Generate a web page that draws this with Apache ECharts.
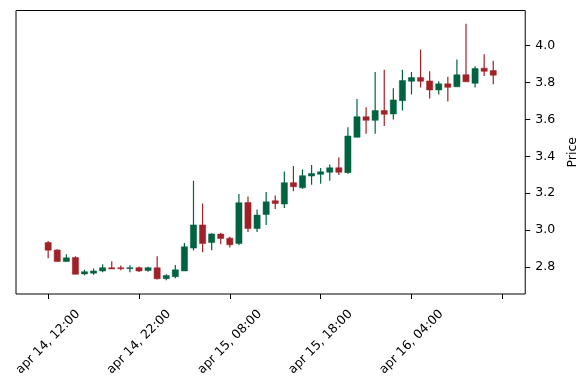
<!DOCTYPE html>
<html>
<head>
<meta charset="utf-8">
<script src="https://cdn.jsdelivr.net/npm/echarts@6/dist/echarts.min.js"></script>
<style>
html,body{margin:0;padding:0;background:#fff;}
#main{width:587px;height:390px;}
</style>
</head>
<body>
<div id="main"></div>
<script>
// Hourly candles starting apr 14, 12:00 (index 0)
const opens  = [2.932,2.892,2.829,2.851,2.762,2.766,2.778,2.795,2.796,2.791,
                2.796,2.780,2.795,2.736,2.747,2.778,2.902,3.028,2.932,2.978,
                2.956,2.927,3.149,3.008,3.084,3.159,3.141,3.257,3.229,3.293,
                3.302,3.313,3.338,3.311,3.503,3.615,3.595,3.648,3.630,3.702,
                3.807,3.827,3.809,3.760,3.793,3.777,3.843,3.796,3.878,3.865];
const closes = [2.891,2.829,2.849,2.760,2.774,2.778,2.796,2.789,2.790,2.796,
                2.778,2.796,2.736,2.753,2.784,2.909,3.028,2.927,2.979,2.954,
                2.920,3.148,3.008,3.081,3.153,3.144,3.257,3.235,3.295,3.307,
                3.316,3.338,3.313,3.510,3.615,3.595,3.648,3.628,3.706,3.811,
                3.827,3.807,3.760,3.793,3.774,3.842,3.804,3.876,3.861,3.840];
const lows   = [2.847,2.829,2.829,2.760,2.755,2.758,2.771,2.789,2.782,2.771,
                2.773,2.774,2.731,2.728,2.739,2.778,2.889,2.880,2.891,2.923,
                2.905,2.918,2.989,2.990,3.028,3.114,3.119,3.211,3.224,3.246,
                3.251,3.267,3.298,3.305,3.503,3.523,3.523,3.565,3.599,3.648,
                3.735,3.773,3.713,3.735,3.697,3.777,3.804,3.773,3.836,3.791];
const highs  = [2.941,2.896,2.869,2.858,2.784,2.791,2.815,2.831,2.807,2.809,
                2.802,2.801,2.858,2.760,2.811,2.929,3.267,3.144,2.983,2.985,
                2.963,3.195,3.182,3.111,3.206,3.188,3.318,3.347,3.329,3.353,
                3.336,3.356,3.394,3.557,3.711,3.666,3.858,3.869,3.769,3.869,
                3.858,3.979,3.861,3.807,3.831,3.925,4.119,3.889,3.954,3.918];
const xTickIdx    = [0, 10, 20, 30, 40, 50];
const xTickLabels = ['apr 14, 12:00','apr 14, 22:00','apr 15, 08:00','apr 15, 18:00','apr 16, 04:00',''];
const yTicks      = [2.8, 3.0, 3.2, 3.4, 3.6, 3.8, 4.0];

const UP = '#006340', DOWN = '#A02128';
const candles = opens.map((o, i) => [i, o, closes[i], lows[i], highs[i]]);

const chart = echarts.init(document.getElementById('main'), null, {renderer: 'canvas'});
const font = 'DejaVu Sans';
chart.setOption({
  animation: false,
  backgroundColor: '#fff',
  grid: {left: 16, right: 60, top: 10.5, bottom: 96, show: true, borderColor: '#000', borderWidth: 1, backgroundColor: 'transparent'},
  xAxis: {
    type: 'value', min: -3.54, max: 52.52,
    axisLine: {show: false, onZero: false},
    splitLine: {show: false},
    axisTick: {show: true, length: 5, lineStyle: {color: '#000', width: 1}, customValues: xTickIdx},
    axisLabel: {
      customValues: xTickIdx, rotate: 45, align: 'center', verticalAlign: 'middle', margin: 48,
      fontFamily: font, fontSize: 12.5, color: '#000',
      formatter: v => { const k = xTickIdx.indexOf(Math.round(v)); return k >= 0 ? xTickLabels[k] : ''; }
    }
  },
  yAxis: {
    type: 'value', position: 'right', min: 2.653, max: 4.191, scale: true,
    axisLine: {show: false, onZero: false},
    splitLine: {show: false},
    axisTick: {show: true, length: 5, lineStyle: {color: '#000', width: 1}, customValues: yTicks},
    axisLabel: {customValues: yTicks, margin: 10, fontFamily: font, fontSize: 12.5, color: '#000',
      formatter: v => v.toFixed(1)},
    name: 'Price', nameLocation: 'middle', nameRotate: 90, nameGap: 34,
    nameTextStyle: {fontFamily: font, fontSize: 12.5, color: '#000'}
  },
  series: [{
    type: 'custom',
    data: candles,
    encode: {x: 0, y: [1, 2, 3, 4]},
    clip: true,
    renderItem: function (params, api) {
      const x = api.value(0), o = api.value(1), c = api.value(2), l = api.value(3), h = api.value(4);
      const col = c >= o ? UP : DOWN;
      const pO = api.coord([x, o]), pC = api.coord([x, c]);
      const pL = api.coord([x, l]), pH = api.coord([x, h]);
      const w = api.size([0.68, 0])[0];
      const top = Math.min(pO[1], pC[1]);
      const hgt = Math.max(Math.abs(pO[1] - pC[1]), 1);
      return {
        type: 'group',
        children: [
          {type: 'line', shape: {x1: pH[0], y1: pH[1], x2: pL[0], y2: pL[1]}, style: {stroke: col, lineWidth: 1.2}},
          {type: 'rect', shape: {x: pO[0] - w / 2, y: top, width: w, height: hgt}, style: {fill: col, stroke: col, lineWidth: 0.5}}
        ]
      };
    }
  }]
});
</script>
</body>
</html>
